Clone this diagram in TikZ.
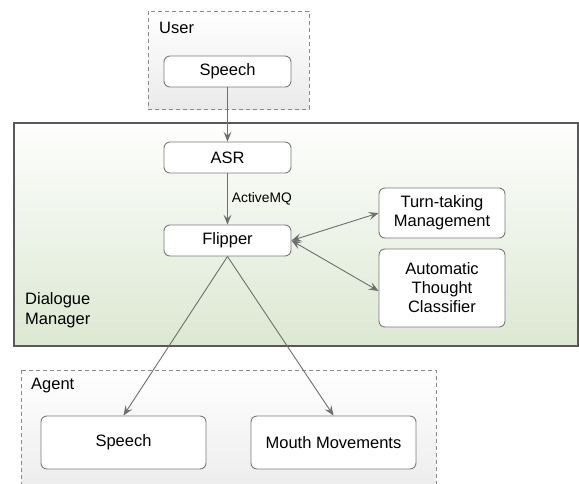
\documentclass[tikz,border=0pt]{standalone}
\usepackage{fontspec}
\setmainfont{Liberation Sans}
\usetikzlibrary{arrows.meta,shadings}
\definecolor{edgegray}{HTML}{6E6E6E}
\definecolor{boxgray}{HTML}{7A7A7A}
\definecolor{dmgreen}{HTML}{DCE8D2}
\definecolor{dashgray}{HTML}{8A8A8A}
\tikzset{
  proc/.style={draw=boxgray, line width=0.9pt, rounded corners=6pt, fill=white,
    align=center, font=\fontsize{16.5}{19}\selectfont, inner sep=0pt},
  conn/.style={draw=edgegray, line width=0.9pt, -{Stealth[length=10pt,width=8pt,inset=4pt]}},
  biconn/.style={draw=edgegray, line width=0.9pt, {Stealth[length=10pt,width=8pt,inset=4pt]}-{Stealth[length=10pt,width=8pt,inset=4pt]}},
  grp/.style={draw=dashgray, dashed, dash pattern=on 4pt off 3pt, line width=0.9pt,
    top color=white, bottom color=black!8},
  lbl/.style={font=\fontsize{16.5}{20}\selectfont, inner sep=0pt, align=left},
}
\begin{document}
\begin{tikzpicture}[x=1pt,y=-1pt]
\useasboundingbox (0,0) rectangle (579,483);
\clip (0,0) rectangle (579,483);
% User group
\path[grp] (148,11) rectangle (309,109);
\node[lbl, anchor=west] (userlbl) at (159,28) {User};
\node[proc, minimum width=127pt, minimum height=31pt] (uspeech) at (227.5,71.5) {Speech};
% Dialogue manager
\path[draw=black!65, line width=1.8pt, top color=white!96!dmgreen, bottom color=dmgreen] (14,123) rectangle (578,346);
\node[lbl, anchor=north west] (dmlbl) at (25,292) {Dialogue\\Manager};
\node[proc, minimum width=127pt, minimum height=31pt] (asr) at (227.5,157.5) {ASR};
\node[proc, minimum width=127pt, minimum height=31pt] (flip) at (227.5,240.5) {Flipper};
\node[proc, minimum width=126pt, minimum height=50pt] (turn) at (442,213) {Turn-taking\\Management};
\node[proc, minimum width=126pt, minimum height=78pt] (atc) at (442,288) {Automatic\\Thought\\Classifier};
% Agent group
\path[grp] (21,370) rectangle (436,500);
\node[lbl, anchor=west] (agentlbl) at (31,386) {Agent};
\node[proc, minimum width=165pt, minimum height=53pt] (aspeech) at (123.5,442.5) {Speech};
\node[proc, minimum width=165pt, minimum height=53pt] (mouth) at (333.5,442.5) {Mouth Movements};
% connectors
\draw[conn] (uspeech) -- (asr);
\draw[conn] (asr) -- node[right=3pt, font=\fontsize{13.8}{16}\selectfont, inner sep=1pt] (amq) {ActiveMQ} (flip);
\draw[biconn] (flip.east) -- (turn.west);
\draw[biconn] (flip.east) -- ([yshift=-3pt]atc.west);
\draw[conn] (flip.south) -- (aspeech.north);
\draw[conn] (flip.south) -- (mouth.north);
\end{tikzpicture}
\end{document}
